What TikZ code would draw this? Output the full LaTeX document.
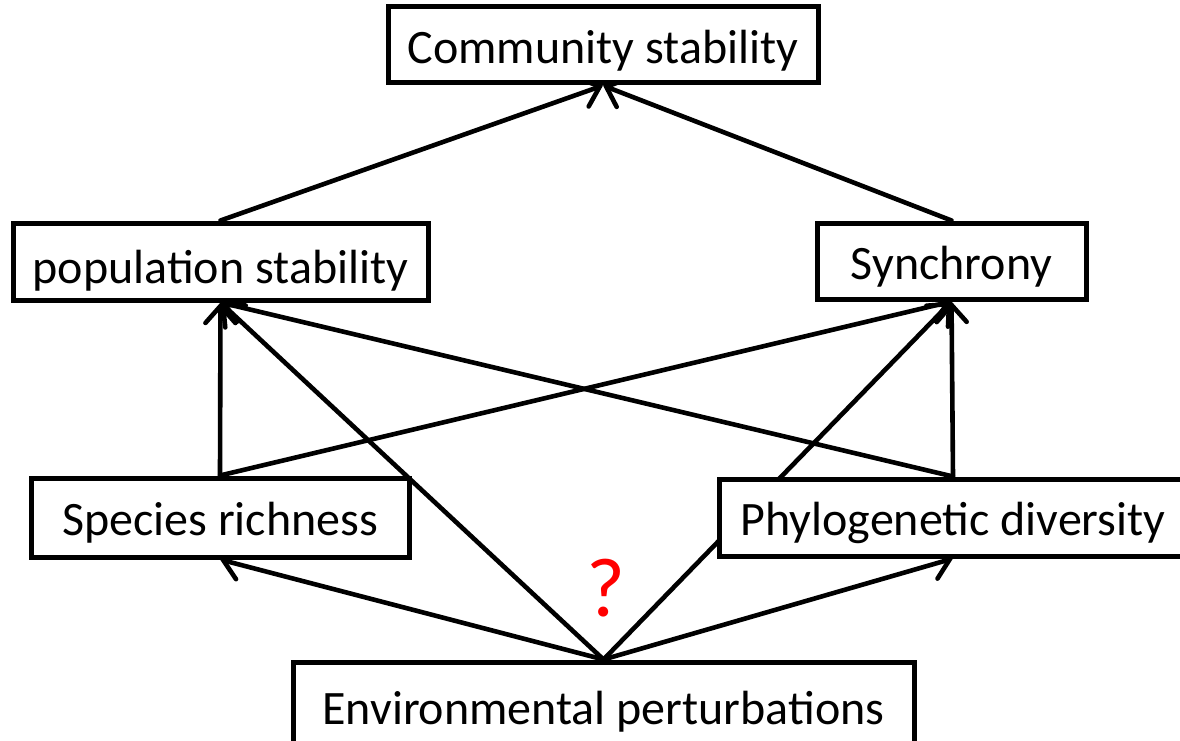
\documentclass[tikz,border=0pt]{standalone}
\usepackage{fontspec}
\setmainfont{Carlito}
\usetikzlibrary{arrows.meta,backgrounds}

\tikzset{
  factor/.style={draw=black, line width=5pt, fill=white, rectangle,
    inner sep=0pt, font=\fontsize{48}{56}\selectfont,
    text height=38pt, text depth=0pt},
  link/.style={line width=4.6pt, line cap=round,
    -{Straight Barb[length=17pt, width=30pt, line cap=round]}},
}

\begin{document}
\begin{tikzpicture}[x=1pt, y=-1pt]
  \useasboundingbox (0,0) rectangle (1180,741);

  % boxes (centre, width, height in px-sized points)
  \node[factor, minimum width=430pt, minimum height=76pt] (comm) at (603,45) {Community stability};
  \node[factor, minimum width=415pt, minimum height=77pt, text height=44pt] (pop) at (220.5,261.5) {population stability};
  \node[factor, minimum width=269pt, minimum height=76pt, text height=36pt] (sync) at (951.5,261) {Synchrony};
  \node[factor, minimum width=378pt, minimum height=79pt, text height=36pt] (rich) at (220,517.5) {Species richness};
  \node[factor, minimum width=468pt, minimum height=77pt, text height=36pt] (phylo) at (953,517.5) {Phylogenetic diversity};
  \node[factor, minimum width=621pt, minimum height=86pt] (env) at (603.5,705) {Environmental perturbations};

  \node[text=red, font=\fontsize{84}{90}\selectfont, inner sep=0pt] (qm) at (606,588) {?};

  % causal links, kept behind the boxes
  \begin{scope}[on background layer]
    \draw[link] (pop.north) -- (comm.south);
    \draw[link] (sync.north) -- (comm.south);
    \draw[link] (rich.north) -- (pop.south);
    \draw[link] (rich.north) -- (sync.south);
    \draw[link] (phylo.north) -- (sync.south);
    \draw[link] (phylo.north) -- (pop.south);
    \draw[link] (env.north) -- (pop.south);
    \draw[link] (env.north) -- (sync.south);
    \draw[link] (env.north) -- (rich.south);
    \draw[link] (env.north) -- (phylo.south);
  \end{scope}
\end{tikzpicture}
\end{document}
